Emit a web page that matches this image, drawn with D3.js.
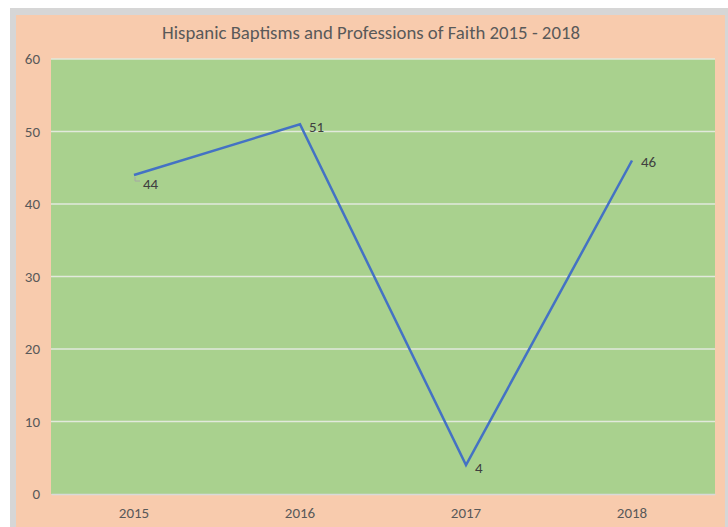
<!DOCTYPE html>
<meta charset="utf-8">
<style>
 body { margin: 0; background: #fff; }
 text { font-family: Carlito, Calibri, "Open Sans", sans-serif; fill: #595959; }
</style>
<body>
<script src="https://d3js.org/d3.v7.min.js"></script>
<script>

// chart data
var years = ["2015", "2016", "2017", "2018"];
var counts = [44, 51, 4, 46];
var yTicks = [0, 10, 20, 30, 40, 50, 60];
var title = "Hispanic Baptisms and Professions of Faith 2015 - 2018";

var W = 728, H = 527;
var margin = {top: 59, right: 13, bottom: 33, left: 51},
    width = W - margin.left - margin.right,
    height = H - margin.top - margin.bottom;

var svg = d3.select("body").append("svg")
    .attr("width", W)
    .attr("height", H);

// grey frame + peach chart area
svg.append("rect").attr("x", 10).attr("y", 8).attr("width", W - 10).attr("height", H - 8).attr("fill", "#d6d6d6");
svg.append("rect").attr("x", 16).attr("y", 15).attr("width", 709).attr("height", H - 15).attr("fill", "#f8cbad");

svg.append("text")
    .attr("x", 371).attr("y", 39)
    .attr("text-anchor", "middle")
    .style("font-size", "18.8px")
    .text(title);

var g = svg.append("g")
    .attr("transform", "translate(" + margin.left + "," + margin.top + ")");

var x = d3.scaleBand().domain(years).range([0, width]);
var y = d3.scaleLinear().domain([0, 60]).range([height, 0]);

// plot area
g.append("rect").attr("width", width).attr("height", height).attr("fill", "#a9d18e");

// gridlines
g.selectAll(".grid").data(yTicks.filter(function(d) { return d > 0; }))
  .enter().append("line")
    .attr("x1", 0).attr("x2", width)
    .attr("y1", function(d) { return y(d); })
    .attr("y2", function(d) { return y(d); })
    .attr("stroke", "#e2e9dc").attr("stroke-width", 1.5);

// y axis
var yAxis = g.append("g").call(d3.axisLeft(y).tickValues(yTicks).tickSize(0).tickPadding(11));
yAxis.select(".domain").remove();
yAxis.selectAll("text").style("font-size", "15px").attr("fill", "#595959");

// x axis
var xAxis = g.append("g")
    .attr("transform", "translate(0," + height + ")")
    .call(d3.axisBottom(x).tickSize(0).tickPadding(13));
xAxis.select(".domain").attr("stroke", "#d9d9d9").attr("stroke-width", 1.5);
xAxis.selectAll("text").style("font-size", "15px").attr("fill", "#595959");

var cx = function(d, i) { return x(years[i]) + x.bandwidth() / 2; };

var line = d3.line()
    .x(function(d, i) { return cx(d, i); })
    .y(function(d) { return y(d); });

g.append("path")
    .datum(counts)
    .attr("fill", "none")
    .attr("stroke", "#4472c4")
    .attr("stroke-width", 2.5)
    .attr("stroke-linejoin", "miter")
    .attr("d", line);

// leader line for the first label
g.append("path")
    .attr("d", "M" + (cx(0, 0) + 1) + "," + (y(counts[0]) + 2) + "v4h5")
    .attr("fill", "none").attr("stroke", "#a6a6a6").attr("stroke-width", 1);

// data labels
var dy = [9, 2, 3, 1];
g.selectAll(".lbl").data(counts)
  .enter().append("text")
    .attr("x", function(d, i) { return cx(d, i) + 9; })
    .attr("y", function(d, i) { return y(d) + dy[i]; })
    .attr("dy", "0.35em")
    .style("font-size", "15px")
    .style("fill", "#404040")
    .text(function(d) { return d; });

</script>
</body>
